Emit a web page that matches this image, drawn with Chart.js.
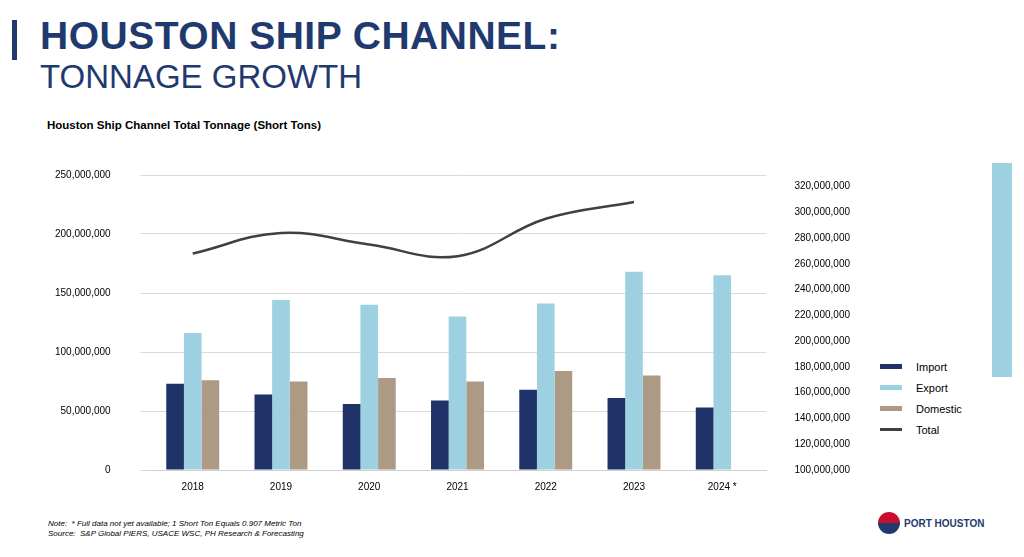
<!DOCTYPE html>
<html><head><meta charset="utf-8">
<script src="https://cdn.jsdelivr.net/npm/chart.js@4"></script>
<style>
body{margin:0;width:1024px;height:557px;background:#fff;font-family:Arial,"Liberation Sans",sans-serif;position:relative;overflow:hidden}
.bar{position:absolute;left:12px;top:20px;width:5px;height:40px;background:#1f3a6e}
h1{position:absolute;left:40px;top:14px;margin:0;font-size:39px;font-weight:900;color:#1f3a6e;letter-spacing:0.5px}
h2{position:absolute;left:40px;top:58px;margin:0;font-size:33px;font-weight:400;color:#1f3a6e}
.sub{position:absolute;left:47px;top:119px;font-size:11.5px;font-weight:bold}
#wrap{position:absolute;left:25px;top:139px;width:845px;height:367px}
.leg{position:absolute;left:880px;top:356px;font-size:11px}
.leg div{height:21px;display:flex;align-items:center}
.leg span{display:inline-block;width:22px;height:5px;margin-right:14px}
.side{position:absolute;left:992px;top:163px;width:20px;height:214px;background:#9dd0e0}
.note{position:absolute;left:48px;top:519px;font-size:8px;font-style:italic;line-height:10px}
.logo{position:absolute;left:878px;top:512px;font-size:10px;font-weight:bold;color:#1f3a6e;display:flex;align-items:center}
.logo i{display:inline-block;width:22px;height:22px;border-radius:50%;background:linear-gradient(#c8102e 50%,#1f3a6e 50%);margin-right:4px}
</style></head><body>
<div class="bar"></div>
<h1>HOUSTON SHIP CHANNEL:</h1>
<h2>TONNAGE GROWTH</h2>
<div class="sub">Houston Ship Channel Total Tonnage (Short Tons)</div>
<div id="wrap"><canvas id="c"></canvas></div>
<div class="leg">
<div><span style="background:#1f3368"></span>Import</div>
<div><span style="background:#9dd0e0"></span>Export</div>
<div><span style="background:#ad9a85"></span>Domestic</div>
<div><span style="background:#404040;height:3px"></span>Total</div>
</div>
<div class="side"></div>
<div class="note">Note:&nbsp; * Full data not yet available; 1 Short Ton Equals 0.907 Metric Ton<br>Source:&nbsp; S&amp;P Global PIERS, USACE WSC, PH Research &amp; Forecasting</div>
<div class="logo"><i></i>PORT HOUSTON</div>
<script>
const years = ["2018","2019","2020","2021","2022","2023","2024 *"];
const importVals = [73e6,64e6,56e6,59e6,68e6,61e6,53e6];
const exportVals = [116e6,144e6,140e6,130e6,141e6,168e6,165e6];
const domesticVals = [76e6,75e6,78e6,75e6,84e6,80e6,null];
const totalVals = [268e6,284e6,275e6,266e6,295e6,308e6,null];
const rightTicks = [100e6,120e6,140e6,160e6,180e6,200e6,220e6,240e6,260e6,280e6,300e6,320e6];
const fmt = v => v.toLocaleString("en-US");
Chart.defaults.font.family = "Arial, 'Liberation Sans', sans-serif";
Chart.defaults.font.size = 10;
Chart.defaults.color = "#000";
new Chart(document.getElementById("c"), {
  data: {
    labels: years,
    datasets: [
      {type:"line", label:"Total", data: totalVals, yAxisID:"y1", borderColor:"#404040", borderWidth:2.5, pointRadius:0, tension:0.4, order:0},
      {type:"bar", label:"Import", data: importVals, backgroundColor:"#1f3368", yAxisID:"y", categoryPercentage:0.6, barPercentage:1},
      {type:"bar", label:"Export", data: exportVals, backgroundColor:"#9dd0e0", yAxisID:"y", categoryPercentage:0.6, barPercentage:1},
      {type:"bar", label:"Domestic", data: domesticVals, backgroundColor:"#ad9a85", yAxisID:"y", categoryPercentage:0.6, barPercentage:1}
    ]
  },
  options: {
    responsive:true, maintainAspectRatio:false, animation:false,
    layout:{padding:{top:8}},
    plugins:{legend:{display:false}, tooltip:{enabled:false}},
    scales:{
      x:{grid:{display:false}, border:{color:"#d0d0d0"}},
      y:{min:0, max:250e6, ticks:{stepSize:50e6, callback:fmt, padding:30}, grid:{color:"#d9d9d9"}, border:{display:false}},
      y1:{position:"right", min:100e6, max:329e6,
          afterBuildTicks: s => { s.ticks = rightTicks.map(v => ({value:v})); },
          ticks:{callback:fmt, padding:20}, grid:{display:false}, border:{display:false}}
    }
  }
});
</script>
</body></html>
